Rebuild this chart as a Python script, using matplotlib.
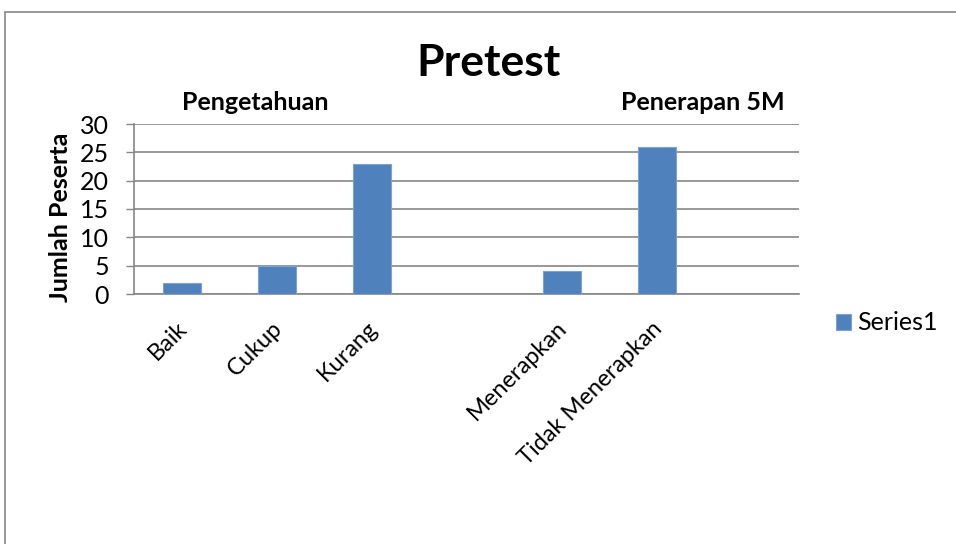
import matplotlib
matplotlib.use("Agg")
import matplotlib.pyplot as plt
from matplotlib.patches import Rectangle
from matplotlib.transforms import ScaledTranslation

categories = ["Baik", "Cukup", "Kurang", "", "Menerapkan", "Tidak Menerapkan", ""]
values = [2, 5, 23, 0, 4, 26, 0]
yticks = [0, 5, 10, 15, 20, 25, 30]

plt.rcParams['font.family'] = ['Lato', 'DejaVu Sans']

fig = plt.figure(figsize=(9.56, 5.44), dpi=100)
ax = fig.add_axes([134/956, 1-294/544, 665/956, 170/544])

x = list(range(len(categories)))
bars = ax.bar(x, values, width=0.4, color="#4F81BD", edgecolor="#7EA1CF", linewidth=0.8, zorder=3, label="Series1")
ax.set_xlim(-0.5, len(categories)-0.5)
ax.set_ylim(0, 30)
ax.set_yticks(yticks)
ax.set_yticklabels([str(t) for t in yticks], fontsize=18)
ax.set_xticks(x)
ax.set_xticklabels(categories, rotation=45, ha='right', va='top', rotation_mode='anchor', fontsize=17)
ax.tick_params(axis='x', length=0, pad=17)
ax.tick_params(axis='y', length=6, color="#868686", width=1, pad=12)
off = ScaledTranslation(-5/100, 0, fig.dpi_scale_trans)
for lbl in ax.get_xticklabels():
    lbl.set_transform(lbl.get_transform() + off)
ax.grid(axis='y', color="#868686", linewidth=1.2, zorder=0)
for s in ['top', 'right']:
    ax.spines[s].set_visible(False)
for s in ['left', 'bottom']:
    ax.spines[s].set_color("#868686")
    ax.spines[s].set_linewidth(1.2)

fig.text(61/956, 1-217/544, "Jumlah Peserta", fontsize=18, fontweight='bold', ha='center', va='center', rotation=90)
fig.text(489/956, 1-63/544, "Pretest", fontsize=32, fontweight='bold', ha='center', va='center')
fig.text(255/956, 1-102/544, "Pengetahuan", fontsize=18, fontweight='bold', ha='center', va='center')
fig.text(703/956, 1-103/544, "Penerapan 5M", fontsize=18, fontweight='bold', ha='center', va='center')

fig.legend(handles=[bars], labels=["Series1"], loc='center left', bbox_to_anchor=(836/956, 1-323/544),
           frameon=False, fontsize=18, handlelength=0.6, handleheight=0.6, handletextpad=0.25,
           borderpad=0, borderaxespad=0)

fig.patches.append(Rectangle((5/956, -0.01), 1, 1-12/544+0.01, transform=fig.transFigure,
                             fill=False, edgecolor="#868686", linewidth=1.2))

fig.savefig("out.png", dpi=100)
